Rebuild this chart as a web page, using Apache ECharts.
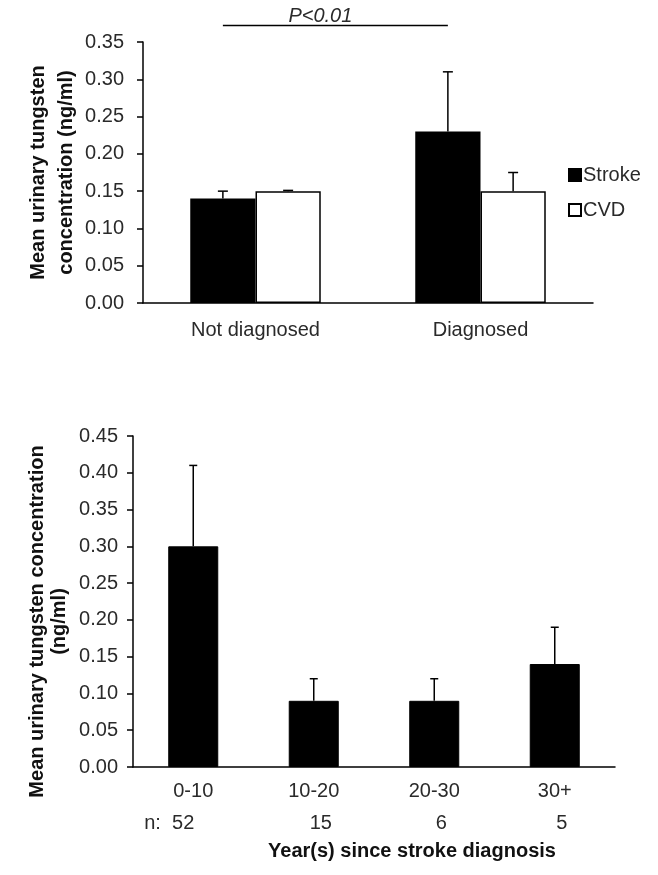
<!DOCTYPE html>
<html>
<head>
<meta charset="utf-8">
<script src="https://cdn.jsdelivr.net/npm/echarts@6/dist/echarts.min.js"></script>
<style>
  html, body { margin: 0; padding: 0; background: #fff; }
  #chart { width: 658px; height: 875px; }
</style>
</head>
<body>
<div id="chart"></div>
<script>
// ---- Top panel data ----
const diagCategories = ['Not diagnosed', 'Diagnosed'];
const strokeMean = [0.14, 0.23];
const strokeUpper = [0.15, 0.31];
const cvdMean = [0.15, 0.15];
const cvdUpper = [0.151, 0.175];
const topTicks = { min: 0, max: 0.35, step: 0.05 };
const sigLabel = 'P<0.01';
const sigLevel = 0.372;

// ---- Bottom panel data ----
const yearCategories = ['0-10', '10-20', '20-30', '30+'];
const nCounts = [52, 15, 6, 5];
const yearMean = [0.30, 0.09, 0.09, 0.14];
const yearUpper = [0.41, 0.12, 0.12, 0.19];
const bottomTicks = { min: 0, max: 0.45, step: 0.05 };

const FONT = 'Liberation Sans, Arial, sans-serif';
const TXT = '#2a2a2a';

const chart = echarts.init(document.getElementById('chart'));

function errorSeries(name, xAxisIndex, yAxisIndex, means, uppers, offsetFrac, capHalf) {
  return {
    type: 'custom',
    name: name,
    xAxisIndex: xAxisIndex,
    yAxisIndex: yAxisIndex,
    z: 10,
    silent: true,
    clip: false,
    data: means.map((m, i) => [i, uppers[i], m]),
    renderItem: function (params, api) {
      const band = api.size([1, 0])[0];
      const top = api.coord([api.value(0), api.value(1)]);
      const base = api.coord([api.value(0), api.value(2)]);
      const x = top[0] + band * offsetFrac;
      const style = { stroke: '#000', lineWidth: 1.5 };
      return {
        type: 'group',
        children: [
          { type: 'line', shape: { x1: x, y1: base[1], x2: x, y2: top[1] }, style: style },
          { type: 'line', shape: { x1: x - capHalf, y1: top[1], x2: x + capHalf, y2: top[1] }, style: style }
        ]
      };
    }
  };
}

const option = {
  backgroundColor: '#fff',
  animation: false,
  textStyle: { fontFamily: FONT },
  grid: [
    { left: 143, top: 42, width: 450, height: 261 },
    { left: 133, top: 436, width: 482, height: 331 }
  ],
  legend: {
    data: ['Stroke', 'CVD'],
    orient: 'vertical',
    left: 563,
    top: 160,
    itemWidth: 12,
    itemHeight: 12,
    itemGap: 15,
    icon: 'rect',
    textStyle: { fontFamily: FONT, fontSize: 20, color: TXT, padding: [0, 0, 0, -3] }
  },
  xAxis: [
    {
      type: 'category', gridIndex: 0, data: diagCategories,
      axisLine: { lineStyle: { color: '#000', width: 1.5 } },
      axisTick: { show: false },
      axisLabel: { fontFamily: FONT, fontSize: 20, color: TXT, margin: 17, lineHeight: 20 }
    },
    {
      type: 'category', gridIndex: 1, data: yearCategories,
      axisLine: { lineStyle: { color: '#000', width: 1.5 } },
      axisTick: { show: false },
      axisLabel: {
        margin: 8,
        interval: 0,
        formatter: function (v, i) {
          if (i === 0) return '{c|' + v + '}\n{n0|n:  ' + nCounts[i] + '}';
          return '{c|' + v + '}\n{n|' + nCounts[i] + '}';
        },
        rich: {
          c: { fontFamily: FONT, fontSize: 20, color: TXT, lineHeight: 32 },
          n0: { fontFamily: FONT, fontSize: 20, color: TXT, lineHeight: 32, padding: [0, 48, 0, 0] },
          n: { fontFamily: FONT, fontSize: 20, color: TXT, lineHeight: 32, padding: [0, 0, 0, 14] }
        }
      },
      name: 'Year(s) since stroke diagnosis',
      nameLocation: 'middle',
      nameGap: 74,
      nameMoveOverlap: false,
      nameTextStyle: { fontFamily: FONT, fontSize: 20, fontWeight: 'bold', color: '#111', lineHeight: 20, padding: [0, 0, 0, 76] }
    }
  ],
  yAxis: [
    {
      type: 'value', gridIndex: 0, min: topTicks.min, max: topTicks.max, interval: topTicks.step,
      splitLine: { show: false },
      axisLine: { show: true, lineStyle: { color: '#000', width: 1.5 } },
      axisTick: { show: true, length: 6, lineStyle: { color: '#000', width: 1.5 } },
      axisLabel: { fontFamily: FONT, fontSize: 20, color: TXT, margin: 19, formatter: v => v.toFixed(2) },
      name: 'Mean urinary tungsten\nconcentration (ng/ml)',
      nameLocation: 'middle',
      nameGap: 63,
      nameMoveOverlap: false,
      nameRotate: 90,
      nameTextStyle: { fontFamily: FONT, fontSize: 20, fontWeight: 'bold', color: '#111', lineHeight: 28, align: 'center' }
    },
    {
      type: 'value', gridIndex: 1, min: bottomTicks.min, max: bottomTicks.max, interval: bottomTicks.step,
      splitLine: { show: false },
      axisLine: { show: true, lineStyle: { color: '#000', width: 1.5 } },
      axisTick: { show: true, length: 6, lineStyle: { color: '#000', width: 1.5 } },
      axisLabel: { fontFamily: FONT, fontSize: 20, color: TXT, margin: 15, formatter: v => v.toFixed(2) },
      name: 'Mean urinary tungsten concentration\n(ng/ml)',
      nameLocation: 'middle',
      nameGap: 63,
      nameMoveOverlap: false,
      nameRotate: 90,
      nameTextStyle: { fontFamily: FONT, fontSize: 20, fontWeight: 'bold', color: '#111', lineHeight: 22, align: 'center', padding: [0, 40, 0, 0] }
    }
  ],
  series: [
    {
      name: 'Stroke', type: 'bar', xAxisIndex: 0, yAxisIndex: 0, data: strokeMean,
      barGap: '0%', barCategoryGap: '42%',
      itemStyle: { color: '#000', borderColor: '#000', borderWidth: 1.5 }
    },
    {
      name: 'CVD', type: 'bar', xAxisIndex: 0, yAxisIndex: 0, data: cvdMean,
      barGap: '0%', barCategoryGap: '42%',
      itemStyle: { color: '#fff', borderColor: '#000', borderWidth: 1.5 }
    },
    errorSeries('strokeErr', 0, 0, strokeMean, strokeUpper, -0.145, 5),
    errorSeries('cvdErr', 0, 0, cvdMean, cvdUpper, 0.145, 5),
    {
      name: 'Years', type: 'bar', xAxisIndex: 1, yAxisIndex: 1, data: yearMean,
      barWidth: '41.5%',
      itemStyle: { color: '#000', borderColor: '#000', borderWidth: 1 }
    },
    errorSeries('yearErr', 1, 1, yearMean, yearUpper, 0, 4)
  ]
};

chart.setOption(option);

// significance line between the two Stroke bars
const p0 = chart.convertToPixel({ gridIndex: 0 }, [0, sigLevel]);
const p1 = chart.convertToPixel({ gridIndex: 0 }, [1, sigLevel]);
const band = p1[0] - p0[0];
const x0 = p0[0] - band * 0.145;
const x1 = p1[0] - band * 0.145;
chart.setOption({
  graphic: [
    { type: 'line', shape: { x1: x0, y1: p0[1], x2: x1, y2: p0[1] }, style: { stroke: '#000', lineWidth: 1.5 } },
    {
      type: 'text', x: (x0 + x1) / 2 - 15, y: p0[1] + 1,
      style: { text: sigLabel, font: 'italic 20px ' + FONT, fill: TXT, align: 'center', verticalAlign: 'bottom' }
    }
  ]
});
</script>
</body>
</html>
